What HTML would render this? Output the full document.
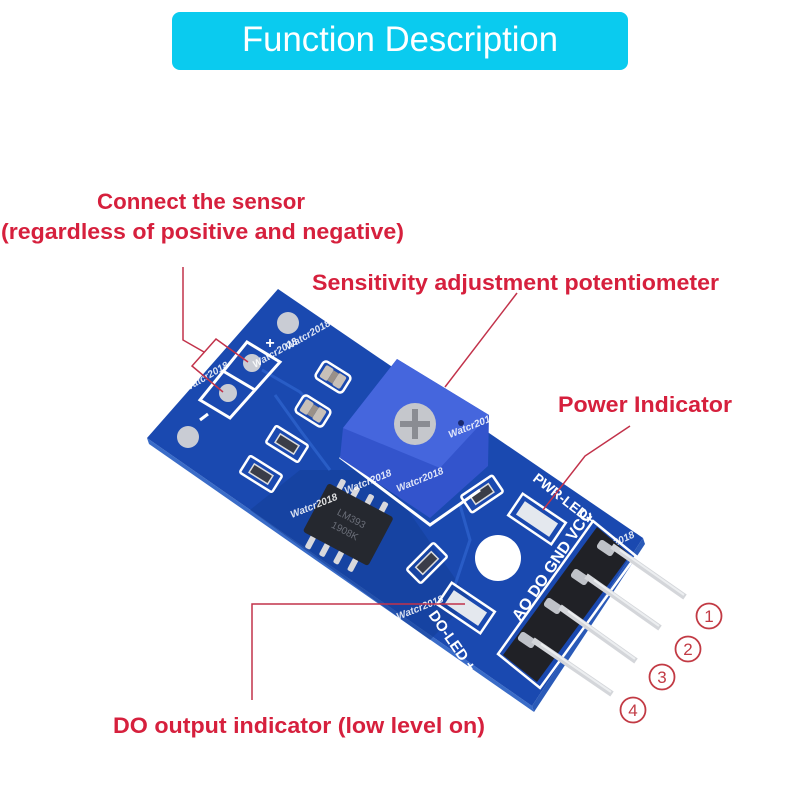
<!DOCTYPE html>
<html><head><meta charset="utf-8"><style>
html,body{margin:0;padding:0;background:#fff;}
svg{display:block;}
</style></head><body>
<svg width="800" height="800" viewBox="0 0 800 800" xmlns="http://www.w3.org/2000/svg">
<rect width="800" height="800" fill="#fff"/>
<!-- banner -->
<rect x="172" y="12" width="456" height="58" rx="8" fill="#0acbef"/>
<text x="400" y="51" text-anchor="middle" font-family="Liberation Sans, sans-serif" font-size="35" fill="#fff" textLength="316" lengthAdjust="spacingAndGlyphs">Function Description</text>

<!-- labels -->
<g font-family="Liberation Sans, sans-serif" font-weight="bold" font-size="22" fill="#d6203d">
<text x="97" y="209" textLength="208" lengthAdjust="spacingAndGlyphs">Connect the sensor</text>
<text x="1" y="239" textLength="403" lengthAdjust="spacingAndGlyphs">(regardless of positive and negative)</text>
<text x="312" y="290" textLength="407" lengthAdjust="spacingAndGlyphs">Sensitivity adjustment potentiometer</text>
<text x="558" y="412" textLength="174" lengthAdjust="spacingAndGlyphs">Power Indicator</text>
<text x="113" y="733" textLength="372" lengthAdjust="spacingAndGlyphs">DO output indicator (low level on)</text>
</g>

<!-- board side edge -->
<polygon points="147,438 532,706 534,712 149,444" fill="#3a6cc8"/>
<polygon points="643,538 532,706 534,712 645,544" fill="#2a5ab8"/>
<!-- board -->
<polygon points="278,289 643,538 532,706 147,438" fill="#1a49b0"/>
<polygon points="300,470 380,470 470,600 430,640 250,510" fill="#14409a" opacity="0.6"/>
<!-- traces -->
<g stroke="#2d62cc" stroke-width="3" fill="none" opacity="0.8">
<polyline points="262,370 300,392 318,412"/>
<polyline points="275,395 300,430 330,470"/>
<polyline points="460,505 470,540 455,585"/>
</g>

<!-- mounting / sensor pads -->
<circle cx="288" cy="323" r="11" fill="#c9ccd4"/>
<circle cx="188" cy="437" r="11" fill="#c9ccd4"/>
<circle cx="252" cy="363" r="9" fill="#c9ccd4"/>
<circle cx="228" cy="393" r="9" fill="#c9ccd4"/>
<polygon points="247,342 280,362 230,418 200,400" fill="none" stroke="#fff" stroke-width="3"/>
<line x1="223" y1="371" x2="255" y2="390" stroke="#fff" stroke-width="3"/>
<text x="270" y="348" font-family="Liberation Sans, sans-serif" font-weight="bold" font-size="16" fill="#fff" text-anchor="middle">+</text>
<line x1="200" y1="420" x2="208" y2="414" stroke="#fff" stroke-width="3"/>

<!-- capacitors -->
<g transform="translate(333,377) rotate(32)">
<rect x="-16" y="-10" width="32" height="20" rx="4" fill="none" stroke="#fff" stroke-width="2.5"/>
<rect x="-12" y="-7" width="9" height="14" rx="2" fill="#c8c0b8"/><rect x="3" y="-7" width="9" height="14" rx="2" fill="#c8c0b8"/>
<rect x="-3" y="-6" width="6" height="12" fill="#9a9088"/>
</g>
<g transform="translate(313,411) rotate(32)">
<rect x="-16" y="-10" width="32" height="20" rx="4" fill="none" stroke="#fff" stroke-width="2.5"/>
<rect x="-12" y="-7" width="9" height="14" rx="2" fill="#c8c0b8"/><rect x="3" y="-7" width="9" height="14" rx="2" fill="#c8c0b8"/>
<rect x="-3" y="-6" width="6" height="12" fill="#9a9088"/>
</g>
<!-- resistors -->
<g fill="none" stroke="#fff" stroke-width="2.5">
<g transform="translate(287,444) rotate(32)"><rect x="-19" y="-10" width="38" height="20" rx="2"/><rect x="-11" y="-5" width="22" height="10" fill="#3a3d48" stroke="#ddd" stroke-width="1.5"/></g>
<g transform="translate(261,474) rotate(32)"><rect x="-19" y="-10" width="38" height="20" rx="2"/><rect x="-11" y="-5" width="22" height="10" fill="#3a3d48" stroke="#ddd" stroke-width="1.5"/></g>
<g transform="translate(482,494) rotate(-34)"><rect x="-19" y="-10" width="38" height="20" rx="2"/><rect x="-11" y="-5" width="22" height="10" fill="#3a3d48" stroke="#ddd" stroke-width="1.5"/></g>
<g transform="translate(427,563) rotate(-45)"><rect x="-19" y="-10" width="38" height="20" rx="2"/><rect x="-11" y="-5" width="22" height="10" fill="#3a3d48" stroke="#ddd" stroke-width="1.5"/></g>
</g>

<!-- IC -->
<g transform="translate(348,525) rotate(28)">
<g fill="#d8d8dc">
<rect x="-28" y="-38" width="6" height="12" rx="2"/><rect x="-12" y="-38" width="6" height="12" rx="2"/><rect x="4" y="-38" width="6" height="12" rx="2"/><rect x="20" y="-38" width="6" height="12" rx="2"/>
<rect x="-28" y="26" width="6" height="14" rx="2"/><rect x="-12" y="26" width="6" height="14" rx="2"/><rect x="4" y="26" width="6" height="14" rx="2"/><rect x="20" y="26" width="6" height="14" rx="2"/>
</g>
<rect x="-37" y="-28" width="74" height="55" rx="3" fill="#25282f"/>
<text x="0" y="-4" font-family="Liberation Sans, sans-serif" font-size="10" fill="#6a6e78" text-anchor="middle">LM393</text>
<text x="0" y="10" font-family="Liberation Sans, sans-serif" font-size="10" fill="#6a6e78" text-anchor="middle">1908K</text>
</g>

<!-- pot silkscreen outline -->
<polyline points="340,457 430,525 480,490" fill="none" stroke="#fff" stroke-width="3"/>
<!-- potentiometer -->
<polygon points="397,359 489,415 488,466 430,518 340,458 343,428" fill="#3354cc"/>
<polygon points="397,359 489,415 440,468 343,428" fill="#4566dd"/>
<circle cx="415" cy="424" r="21" fill="#c5c7cc"/>
<g stroke="#8a8c92" stroke-width="6"><line x1="400" y1="424" x2="430" y2="424"/><line x1="415" y1="409" x2="415" y2="439"/></g>
<circle cx="461" cy="423" r="3" fill="#1a2a70"/>

<!-- hole -->
<circle cx="498" cy="558" r="23" fill="#fff"/>

<!-- LEDs -->
<g transform="translate(537,519) rotate(34)">
<rect x="-26" y="-13" width="52" height="26" fill="none" stroke="#fff" stroke-width="2.5"/>
<rect x="-20" y="-8" width="40" height="16" fill="#e4e8ee"/>
</g>
<g transform="translate(466,608) rotate(34)">
<rect x="-26" y="-13" width="52" height="26" fill="none" stroke="#fff" stroke-width="2.5"/>
<rect x="-20" y="-8" width="40" height="16" fill="#e4e8ee"/>
</g>

<!-- board labels -->
<g font-family="Liberation Sans, sans-serif" font-weight="bold" fill="#fff">
<text transform="translate(532,480) rotate(38)" font-size="14">PWR-LED+</text>
<text transform="translate(520,622) rotate(-56)" font-size="16">AO DO GND VCC</text>
<text transform="translate(428,615) rotate(55)" font-size="15">DO-LED +</text>
</g>
<!-- watermarks -->
<g font-family="Liberation Sans, sans-serif" font-style="italic" font-weight="bold" font-size="10" fill="#fff" fill-opacity="0.85">
<text transform="translate(288,350) rotate(-30)">Watcr2018</text>
<text transform="translate(255,368) rotate(-30)">Watcr2018</text>
<text transform="translate(186,392) rotate(-30)">Watcr2018</text>
<text transform="translate(398,492) rotate(-22)">Watcr2018</text>
<text transform="translate(346,494) rotate(-22)">Watcr2018</text>
<text transform="translate(292,518) rotate(-22)">Watcr2018</text>
<text transform="translate(450,438) rotate(-22)">Watcr2018</text>
<text transform="translate(398,620) rotate(-22)">Watcr2018</text>
<text transform="translate(590,558) rotate(-25)">Watcr2018</text>
</g>

<!-- header -->
<polygon points="593,521 636,556 540,688 498,654" fill="none" stroke="#fff" stroke-width="2.5"/>
<polygon points="597,527 630,555 537,682 503,655" fill="#202126"/>
<g fill="#bfc2c8">
<rect x="-9" y="-5" width="18" height="10" rx="3" transform="translate(606,548) rotate(34)"/>
<rect x="-9" y="-5" width="18" height="10" rx="3" transform="translate(580,577) rotate(34)"/>
<rect x="-9" y="-5" width="18" height="10" rx="3" transform="translate(553,606) rotate(34)"/>
<rect x="-9" y="-5" width="18" height="10" rx="3" transform="translate(527,640) rotate(34)"/>
</g>
<!-- pins -->
<g stroke="#d4d6da" stroke-width="6" stroke-linecap="butt">
<line x1="612" y1="546" x2="685" y2="597"/>
<line x1="586" y1="576" x2="660" y2="628"/>
<line x1="560" y1="607" x2="636" y2="661"/>
<line x1="533" y1="640" x2="612" y2="694"/>
</g>
<g stroke="#eceef0" stroke-width="2">
<line x1="620" y1="550" x2="684" y2="595"/>
<line x1="594" y1="580" x2="659" y2="626"/>
<line x1="568" y1="611" x2="635" y2="659"/>
<line x1="541" y1="644" x2="611" y2="692"/>
</g>

<!-- leader lines -->
<g stroke="#c2324a" stroke-width="1.5" fill="none">
<polyline points="183,267 183,340 204,352"/>
<polyline points="223,392 192,366 216,339 248,362"/>
<line x1="517" y1="293" x2="445" y2="387"/>
<polyline points="630,426 585,456 543,510"/>
<polyline points="252,700 252,604 465,604"/>
</g>

<!-- circled numbers -->
<g fill="none" stroke="#c23a44" stroke-width="1.8">
<circle cx="709" cy="616" r="12.5"/>
<circle cx="688" cy="649" r="12.5"/>
<circle cx="662" cy="677" r="12.5"/>
<circle cx="633" cy="710" r="12.5"/>
</g>
<g font-family="Liberation Sans, sans-serif" font-size="17" fill="#c23a44" text-anchor="middle">
<text x="709" y="622">1</text>
<text x="688" y="655">2</text>
<text x="662" y="683">3</text>
<text x="633" y="716">4</text>
</g>
</svg>
</body></html>
